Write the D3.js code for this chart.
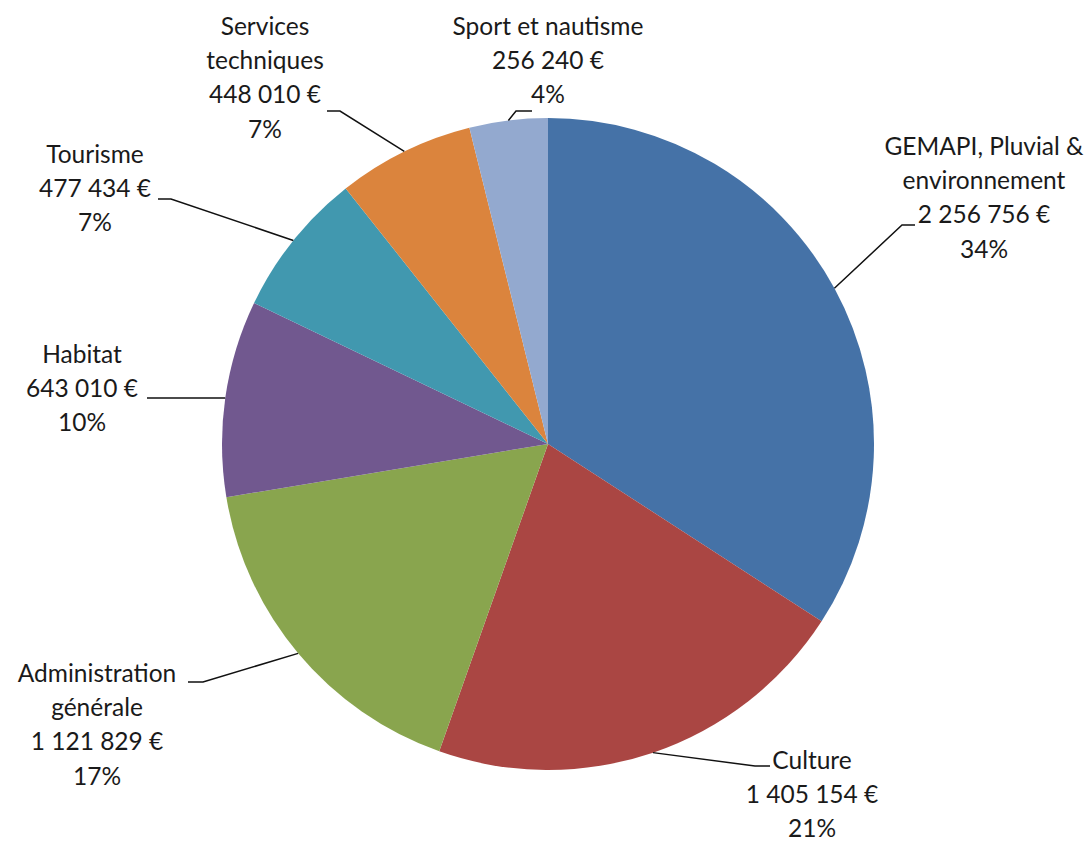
<!DOCTYPE html>
<html>
<head>
<meta charset="utf-8">
<script src="https://cdn.jsdelivr.net/npm/d3@7"></script>
<style>
  body { margin: 0; background: #fff; }
  svg text { font-family: Lato, "Open Sans", sans-serif; fill: #1a1a1a; }
</style>
</head>
<body>
<script>

// data
var categories = [
        ["GEMAPI, Pluvial &", "environnement"],
        ["Culture"],
        ["Administration", "générale"],
        ["Habitat"],
        ["Tourisme"],
        ["Services", "techniques"],
        ["Sport et nautisme"]
    ],
    amounts = [2256756, 1405154, 1121829, 643010, 477434, 448010, 256240],
    amountLabels = ["2 256 756 €", "1 405 154 €", "1 121 829 €", "643 010 €", "477 434 €", "448 010 €", "256 240 €"],
    percentLabels = ["34%", "21%", "17%", "10%", "7%", "7%", "4%"],
    colors = ["#4572A7", "#AA4643", "#89A54E", "#71588F", "#4198AF", "#DB843D", "#93A9CF"];

// label layout: text centre x, first baseline y, leader elbow, leader tail x
var labelLayout = [
        { x: 984, y: 155, ex: 902, ey: 225, tx: 915 },
        { x: 812, y: 769, ex: 755, ey: 766, tx: 770 },
        { x: 97,  y: 682, ex: 203, ey: 682, tx: 188 },
        { x: 82,  y: 363, ex: 160, ey: 398, tx: 147 },
        { x: 95,  y: 163, ex: 171, ey: 199, tx: 158 },
        { x: 265, y: 35,  ex: 340, ey: 111, tx: 327 },
        { x: 548, y: 35,  ex: 516, ey: 111, tx: 532 }
    ];


var width = 1092,
    height = 843,
    cx = 548,
    cy = 444,
    radius = 326,
    lineStep = 34.2;


var svg = d3.select("body")
        .append("svg")
            .attr("width", width)
            .attr("height", height);


var pie = d3.pie()
        .sort(null)
        .value(function(d) { return d; });

var arc = d3.arc()
        .innerRadius(0)
        .outerRadius(radius);

var slices = pie(amounts);


var g = svg.append("g")
        .attr("transform", "translate(" + cx + "," + cy + ")");

g.selectAll("path.slice")
    .data(slices)
    .enter()
    .append("path")
        .attr("class", "slice")
        .attr("d", arc)
        .attr("fill", function(d, i) { return colors[i]; });


// leader lines
svg.selectAll("polyline.leader")
    .data(slices)
    .enter()
    .append("polyline")
        .attr("class", "leader")
        .attr("points", function(d, i) {
            var a = (d.startAngle + d.endAngle) / 2,
                sx = cx + radius * Math.sin(a),
                sy = cy - radius * Math.cos(a),
                L = labelLayout[i];
            return [[sx, sy], [L.ex, L.ey], [L.tx, L.ey]].join(" ");
        })
        .attr("fill", "none")
        .attr("stroke", "#111")
        .attr("stroke-width", 1.5);


// labels
var labels = svg.selectAll("text.label")
    .data(slices)
    .enter()
    .append("text")
        .attr("class", "label")
        .attr("text-anchor", "middle")
        .attr("font-size", 24.5);

labels.each(function(d, i) {
    var t = d3.select(this),
        L = labelLayout[i],
        lines = categories[i].concat([amountLabels[i], percentLabels[i]]);

    lines.forEach(function(s, k) {
        t.append("tspan")
            .attr("x", L.x)
            .attr("y", L.y + k * lineStep)
            .text(s);
    });
});

</script>
</body>
</html>
